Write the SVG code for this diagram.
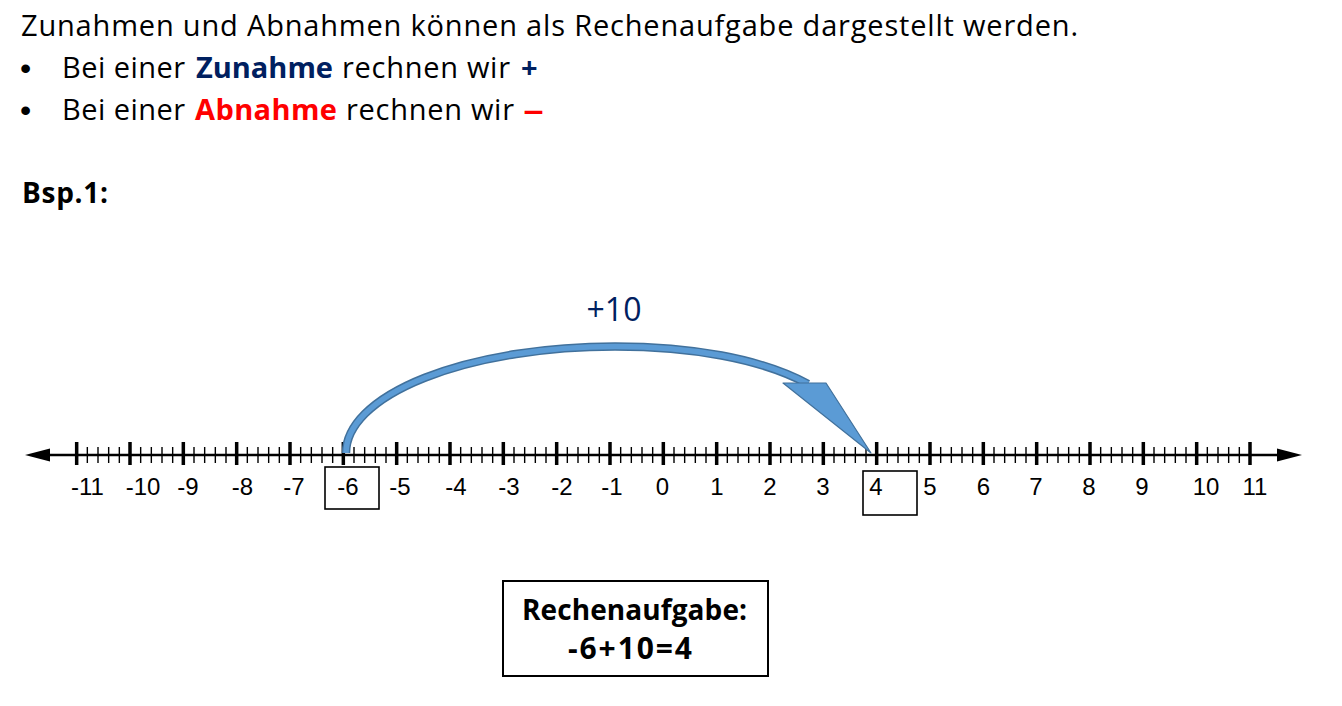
<svg xmlns="http://www.w3.org/2000/svg" width="1342" height="706" viewBox="0 0 1342 706">
<style>
.t{font-family:"Open Sans","Noto Sans",sans-serif;fill:#000}
.b{font-weight:bold}
.bul{font-family:"Liberation Sans",Arial,sans-serif;font-size:32px;fill:#000}
.num{font-family:"Liberation Sans",Arial,sans-serif;font-size:24px;fill:#000;text-anchor:middle}
.box{fill:none;stroke:#000;stroke-width:1.6}
.navy{fill:#002060}
.red{fill:#FF0000}
</style>
<rect width="1342" height="706" fill="#fff"/>
<g id="intro">
<text class="t" x="21" y="36" font-size="29" textLength="1057" lengthAdjust="spacing">Zunahmen und Abnahmen können als Rechenaufgabe dargestellt werden.</text>
<text class="bul" x="20" y="79">•</text>
<text class="t" x="62" y="78" font-size="29" textLength="123" lengthAdjust="spacing">Bei einer</text>
<text class="t b navy" x="196" y="78" font-size="29" textLength="137" lengthAdjust="spacing">Zunahme</text>
<text class="t" x="342" y="78" font-size="29" textLength="168" lengthAdjust="spacing">rechnen wir</text>
<text class="t b navy" x="521" y="78" font-size="29">+</text>
<text class="bul" x="20" y="121">•</text>
<text class="t" x="62" y="120" font-size="29" textLength="123" lengthAdjust="spacing">Bei einer</text>
<text class="t b red" x="195" y="120" font-size="29" textLength="142" lengthAdjust="spacing">Abnahme</text>
<text class="t" x="346" y="120" font-size="29" textLength="168" lengthAdjust="spacing">rechnen wir</text>
<text class="t b red" x="523" y="120" font-size="29" textLength="21" lengthAdjust="spacingAndGlyphs">–</text>
<text class="t b" x="22" y="203" font-size="28" textLength="86" lengthAdjust="spacing">Bsp.1:</text>
</g>
<g id="numberline">
<line x1="40" y1="455" x2="1288" y2="455" stroke="#000" stroke-width="2.6"/>
<polygon points="25,455 50,448.5 50,461.5" fill="#000"/>
<polygon points="1302,455 1277,448.5 1277,461.5" fill="#000"/>
<path stroke="#000" stroke-width="3.5" fill="none" d="M76.67,442v23M130,442v23M183.33,442v23M236.67,442v23M290,442v23M343.33,442v23M396.67,442v23M450,442v23M503.33,442v23M556.67,442v23M610,442v23M663.33,442v23M716.67,442v23M770,442v23M823.33,442v23M876.67,442v23M930,442v23M983.33,442v23M1036.67,442v23M1090,442v23M1143.33,442v23M1196.67,442v23M1250,442v23"/>
<path stroke="#000" stroke-width="1.4" fill="none" d="M87.33,447v16m10.667,-16v16m10.667,-16v16m10.667,-16v16M140.67,447v16m10.667,-16v16m10.667,-16v16m10.667,-16v16M194,447v16m10.667,-16v16m10.667,-16v16m10.667,-16v16M247.33,447v16m10.667,-16v16m10.667,-16v16m10.667,-16v16M300.67,447v16m10.667,-16v16m10.667,-16v16m10.667,-16v16M354,447v16m10.667,-16v16m10.667,-16v16m10.667,-16v16M407.33,447v16m10.667,-16v16m10.667,-16v16m10.667,-16v16M460.67,447v16m10.667,-16v16m10.667,-16v16m10.667,-16v16M514,447v16m10.667,-16v16m10.667,-16v16m10.667,-16v16M567.33,447v16m10.667,-16v16m10.667,-16v16m10.667,-16v16M620.67,447v16m10.667,-16v16m10.667,-16v16m10.667,-16v16M674,447v16m10.667,-16v16m10.667,-16v16m10.667,-16v16M727.33,447v16m10.667,-16v16m10.667,-16v16m10.667,-16v16M780.67,447v16m10.667,-16v16m10.667,-16v16m10.667,-16v16M834,447v16m10.667,-16v16m10.667,-16v16m10.667,-16v16M887.33,447v16m10.667,-16v16m10.667,-16v16m10.667,-16v16M940.67,447v16m10.667,-16v16m10.667,-16v16m10.667,-16v16M994,447v16m10.667,-16v16m10.667,-16v16m10.667,-16v16M1047.33,447v16m10.667,-16v16m10.667,-16v16m10.667,-16v16M1100.67,447v16m10.667,-16v16m10.667,-16v16m10.667,-16v16M1154,447v16m10.667,-16v16m10.667,-16v16m10.667,-16v16M1207.33,447v16m10.667,-16v16m10.667,-16v16m10.667,-16v16"/>
</g>
<g id="labels">
<text class="num" x="87.5" y="495">-11</text>
<text class="num" x="143" y="495">-10</text>
<text class="num" x="188" y="495">-9</text>
<text class="num" x="242.5" y="495">-8</text>
<text class="num" x="294" y="495">-7</text>
<text class="num" x="348" y="495">-6</text>
<text class="num" x="400" y="495">-5</text>
<text class="num" x="456" y="495">-4</text>
<text class="num" x="509" y="495">-3</text>
<text class="num" x="562" y="495">-2</text>
<text class="num" x="612" y="495">-1</text>
<text class="num" x="662.5" y="495">0</text>
<text class="num" x="717" y="495">1</text>
<text class="num" x="770" y="495">2</text>
<text class="num" x="823" y="495">3</text>
<text class="num" x="876" y="495">4</text>
<text class="num" x="930" y="495">5</text>
<text class="num" x="983.5" y="495">6</text>
<text class="num" x="1036" y="495">7</text>
<text class="num" x="1089" y="495">8</text>
<text class="num" x="1142" y="495">9</text>
<text class="num" x="1206" y="495">10</text>
<text class="num" x="1255" y="495">11</text>
</g>
<g id="start-box"><rect class="box" x="325" y="467" width="54" height="42"/></g>
<g id="end-box"><rect class="box" x="863" y="471" width="54" height="44"/></g>
<g id="connectors">
<path d="M346,453 A269,106.5 0 0 1 615,346.5 C690,346.5 760,358 808,384" fill="none" stroke="#41719C" stroke-width="8.5"/>
<path d="M346,453 A269,106.5 0 0 1 615,346.5 C690,346.5 760,358 808,384" fill="none" stroke="#5B9BD5" stroke-width="5.5"/>
<polygon points="783,383 826,383 871,453" fill="#5B9BD5" stroke="#41719C" stroke-width="1.2" stroke-linejoin="round"/>
</g>
<g id="jump-label"><text class="t navy" x="614" y="321" font-size="32" text-anchor="middle">+10</text></g>
<g id="result">
<rect x="503" y="581" width="265" height="95" fill="#fff" stroke="#000" stroke-width="2"/>
<text class="t b" x="522" y="620" font-size="28" textLength="225" lengthAdjust="spacing">Rechenaufgabe:</text>
<text class="t b" x="568" y="659" font-size="30" textLength="124" lengthAdjust="spacing">-6+10=4</text>
</g>
</svg>
